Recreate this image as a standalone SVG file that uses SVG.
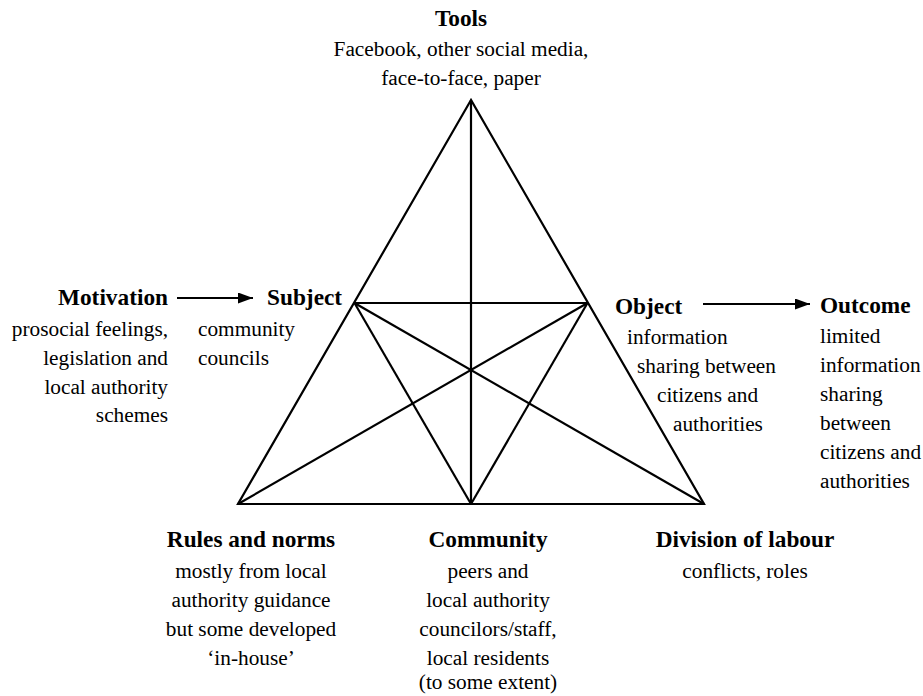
<svg xmlns="http://www.w3.org/2000/svg" width="923" height="696" viewBox="0 0 923 696" font-family="'Liberation Serif', 'Times New Roman', serif">
  <style>
    text { fill: #000; font-family: 'Liberation Serif', 'Times New Roman', serif; }
    .title { font-weight: bold; font-size: 23.3px; }
    .body { font-size: 21.3px; }
    .mid { text-anchor: middle; }
    .end { text-anchor: end; }
    .edge { stroke: #000; stroke-width: 2.2; fill: none; stroke-linejoin: miter; }
    .arrow { stroke: #000; stroke-width: 2.2; fill: none; }
  </style>
  <defs>
    <marker id="head" markerUnits="userSpaceOnUse" markerWidth="16" markerHeight="12" refX="15" refY="5.5" orient="auto">
      <path d="M0,0 L15,5.5 L0,11 Z" fill="#000"/>
    </marker>
  </defs>

  <!-- activity triangle and arrows -->
  <g id="connectors">
    <polygon class="edge" points="471,100 238,504 704,504"/>
    <line class="edge" x1="354.5" y1="303" x2="587.5" y2="303"/>
    <line class="edge" x1="471" y1="100" x2="471" y2="504"/>
    <line class="edge" x1="354.5" y1="303" x2="471" y2="504"/>
    <line class="edge" x1="354.5" y1="303" x2="704" y2="504"/>
    <line class="edge" x1="587.5" y1="303" x2="471" y2="504"/>
    <line class="edge" x1="587.5" y1="303" x2="238" y2="504"/>
    <line class="arrow" x1="177" y1="298" x2="253" y2="298" marker-end="url(#head)"/>
    <line class="arrow" x1="703" y1="304" x2="810" y2="304" marker-end="url(#head)"/>
  </g>

  <g id="tools">
    <text class="title mid" x="461" y="26">Tools</text>
    <text class="body mid" x="461" y="56">Facebook, other social media,</text>
    <text class="body mid" x="461" y="85">face-to-face, paper</text>
  </g>

  <g id="motivation">
    <text class="title end" x="168" y="305">Motivation</text>
    <text class="body end" x="168" y="336">prosocial feelings,</text>
    <text class="body end" x="168" y="365">legislation and</text>
    <text class="body end" x="168" y="394">local authority</text>
    <text class="body end" x="168" y="422">schemes</text>
  </g>

  <g id="subject">
    <text class="title" x="267" y="305">Subject</text>
    <text class="body" x="198" y="336">community</text>
    <text class="body" x="198" y="365">councils</text>
  </g>

  <g id="object">
    <text class="title" x="615" y="314">Object</text>
    <text class="body" x="627" y="344">information</text>
    <text class="body" x="637" y="373">sharing between</text>
    <text class="body" x="657" y="402">citizens and</text>
    <text class="body" x="673" y="431">authorities</text>
  </g>

  <g id="outcome">
    <text class="title" x="820" y="313">Outcome</text>
    <text class="body" x="820" y="343">limited</text>
    <text class="body" x="820" y="372">information</text>
    <text class="body" x="820" y="401">sharing</text>
    <text class="body" x="820" y="430">between</text>
    <text class="body" x="820" y="459">citizens and</text>
    <text class="body" x="820" y="488">authorities</text>
  </g>

  <g id="rules">
    <text class="title mid" x="251" y="547">Rules and norms</text>
    <text class="body mid" x="251" y="578">mostly from local</text>
    <text class="body mid" x="251" y="607">authority guidance</text>
    <text class="body mid" x="251" y="636">but some developed</text>
    <text class="body mid" x="251" y="665">‘in-house’</text>
  </g>

  <g id="community">
    <text class="title mid" x="488" y="547">Community</text>
    <text class="body mid" x="488" y="578">peers and</text>
    <text class="body mid" x="488" y="607">local authority</text>
    <text class="body mid" x="488" y="636">councilors/staff,</text>
    <text class="body mid" x="488" y="665">local residents</text>
    <text class="body mid" x="488" y="689">(to some extent)</text>
  </g>

  <g id="division">
    <text class="title mid" x="745" y="547">Division of labour</text>
    <text class="body mid" x="745" y="578">conflicts, roles</text>
  </g>
</svg>
